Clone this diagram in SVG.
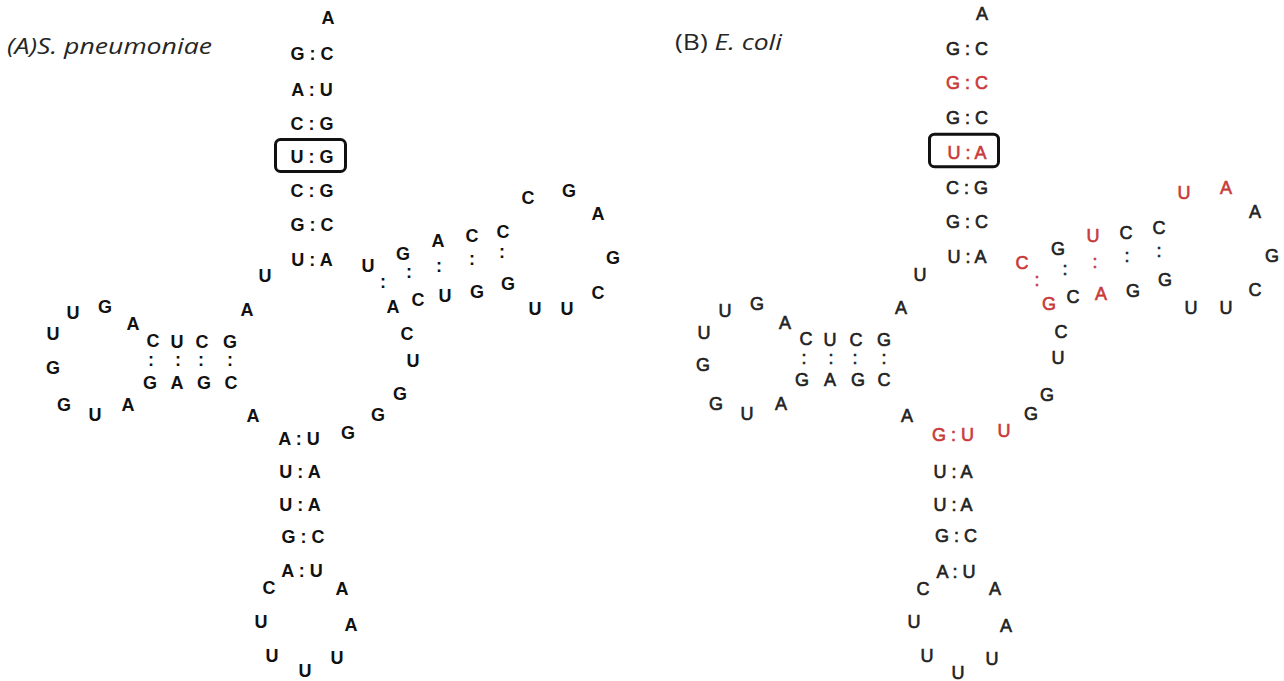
<svg xmlns="http://www.w3.org/2000/svg" width="1284" height="681" viewBox="0 0 1284 681">
<style>
  .b { font-family: "Liberation Sans", Arial, sans-serif; font-size: 18px; font-weight: bold; fill: #111; text-anchor: middle; }
  .r { font-family: "Liberation Sans", Arial, sans-serif; font-size: 18px; fill: #222; stroke: #222; stroke-width: 0.6; text-anchor: middle; }
  .r.red { fill: #c83a3a; stroke: #c83a3a; }
  .title { font-family: "Open Sans", "Liberation Sans", sans-serif; font-size: 22px; fill: #262626; }
  .hl { fill: none; stroke: #111; stroke-width: 3; }
</style>
<rect width="1284" height="681" fill="#fff"/>

<!-- Panel A -->
<g id="panel-a">
  <g id="a-title">
    <text class="title" x="7" y="54" font-style="italic" textLength="205" lengthAdjust="spacingAndGlyphs">(A)S. pneumoniae</text>
  </g>
  <g id="a-acceptor-stem">
    <text class="b" x="328" y="23.5">A</text>
    <text class="b" x="312" y="59.5">G : C</text>
    <text class="b" x="312" y="95.5">A : U</text>
    <text class="b" x="312" y="129.5">C : G</text>
    <text class="b" x="312" y="162.5">U : G</text>
    <text class="b" x="312" y="196.5">C : G</text>
    <text class="b" x="312" y="230.5">G : C</text>
    <text class="b" x="312" y="265.5">U : A</text>
    <rect class="hl" x="275.5" y="139.5" width="70" height="32" rx="5"/>
  </g>
  <g id="a-d-arm">
    <text class="b" x="265" y="281.5">U</text>
    <text class="b" x="247" y="315.5">A</text>
    <text class="b" x="153" y="346.5">C</text>
    <text class="b" x="177" y="347.5">U</text>
    <text class="b" x="202" y="347.5">C</text>
    <text class="b" x="230" y="347.5">G</text>
    <text class="b" x="151" y="366.2">:</text>
    <text class="b" x="178" y="366.2">:</text>
    <text class="b" x="201" y="366.2">:</text>
    <text class="b" x="230" y="366.2">:</text>
    <text class="b" x="150" y="388.5">G</text>
    <text class="b" x="177" y="388.5">A</text>
    <text class="b" x="204" y="388.5">G</text>
    <text class="b" x="231" y="388.5">C</text>
    <text class="b" x="133" y="329.5">A</text>
    <text class="b" x="105" y="312.5">G</text>
    <text class="b" x="73" y="318.5">U</text>
    <text class="b" x="53" y="339.5">U</text>
    <text class="b" x="53" y="373.5">G</text>
    <text class="b" x="64" y="410.5">G</text>
    <text class="b" x="95" y="420.5">U</text>
    <text class="b" x="128" y="410.5">A</text>
    <text class="b" x="253" y="421.5">A</text>
  </g>
  <g id="a-anticodon-arm">
    <text class="b" x="299" y="444.5">A : U</text>
    <text class="b" x="300" y="477.5">U : A</text>
    <text class="b" x="300" y="510.5">U : A</text>
    <text class="b" x="303" y="542.5">G : C</text>
    <text class="b" x="302" y="576.5">A : U</text>
    <text class="b" x="269" y="593.5">C</text>
    <text class="b" x="342" y="594.5">A</text>
    <text class="b" x="261" y="627.5">U</text>
    <text class="b" x="351" y="630.5">A</text>
    <text class="b" x="272" y="661.5">U</text>
    <text class="b" x="305" y="676.5">U</text>
    <text class="b" x="337" y="663.5">U</text>
  </g>
  <g id="a-t-arm">
    <text class="b" x="348" y="438.5">G</text>
    <text class="b" x="378" y="420.5">G</text>
    <text class="b" x="400" y="399.5">G</text>
    <text class="b" x="413" y="366.5">U</text>
    <text class="b" x="407" y="339.5">C</text>
    <text class="b" x="393" y="312.5">A</text>
    <text class="b" x="418" y="305.5">C</text>
    <text class="b" x="445" y="301.5">U</text>
    <text class="b" x="477" y="297.5">G</text>
    <text class="b" x="508" y="289.5">G</text>
    <text class="b" x="535" y="314.5">U</text>
    <text class="b" x="567" y="314.5">U</text>
    <text class="b" x="598" y="298.5">C</text>
    <text class="b" x="613" y="263.5">G</text>
    <text class="b" x="598" y="219.5">A</text>
    <text class="b" x="569" y="196.5">G</text>
    <text class="b" x="528" y="203.5">C</text>
    <text class="b" x="503" y="237.5">C</text>
    <text class="b" x="472" y="241.5">C</text>
    <text class="b" x="438" y="246.5">A</text>
    <text class="b" x="403" y="259.5">G</text>
    <text class="b" x="368" y="271.5">U</text>
    <text class="b" x="383" y="287.7">:</text>
    <text class="b" x="409" y="277.7">:</text>
    <text class="b" x="439" y="271.7">:</text>
    <text class="b" x="472" y="264.7">:</text>
    <text class="b" x="502" y="257.7">:</text>
  </g>
</g>

<!-- Panel B -->
<g id="panel-b">
  <g id="b-title">
    <text class="title" x="675" y="50" textLength="107" lengthAdjust="spacingAndGlyphs">(B) <tspan font-style="italic">E. coli</tspan></text>
  </g>
  <g id="b-acceptor-stem">
    <text class="r" x="982" y="19.5">A</text>
    <text class="r" x="967" y="54.5">G : C</text>
    <text class="r red" x="967" y="88.5">G : C</text>
    <text class="r" x="967" y="123.5">G : C</text>
    <text class="r red" x="967" y="158.5">U : A</text>
    <text class="r" x="967" y="193.5">C : G</text>
    <text class="r" x="967" y="227.5">G : C</text>
    <text class="r" x="967" y="262.5">U : A</text>
    <rect class="hl" x="929.5" y="134.2" width="69" height="32.5" rx="5"/>
  </g>
  <g id="b-d-arm">
    <text class="r" x="920" y="280.5">U</text>
    <text class="r" x="901" y="313.5">A</text>
    <text class="r" x="806" y="344.5">C</text>
    <text class="r" x="830" y="346">U</text>
    <text class="r" x="856" y="346">C</text>
    <text class="r" x="884" y="346">G</text>
    <text class="r" x="804" y="363.5">:</text>
    <text class="r" x="831" y="363.5">:</text>
    <text class="r" x="855" y="363.5">:</text>
    <text class="r" x="884" y="363.5">:</text>
    <text class="r" x="802" y="385.5">G</text>
    <text class="r" x="830" y="385.5">A</text>
    <text class="r" x="858" y="385.5">G</text>
    <text class="r" x="884" y="385.5">C</text>
    <text class="r" x="785" y="328.5">A</text>
    <text class="r" x="757" y="309.5">G</text>
    <text class="r" x="725" y="316.5">U</text>
    <text class="r" x="704" y="338.5">U</text>
    <text class="r" x="703" y="370.5">G</text>
    <text class="r" x="716" y="409.5">G</text>
    <text class="r" x="747" y="419.5">U</text>
    <text class="r" x="781" y="409.5">A</text>
    <text class="r" x="907" y="421.5">A</text>
  </g>
  <g id="b-anticodon-arm">
    <text class="r red" x="953" y="440.5">G : U</text>
    <text class="r" x="953" y="477.5">U : A</text>
    <text class="r" x="953" y="510.5">U : A</text>
    <text class="r" x="956" y="541.5">G : C</text>
    <text class="r" x="956" y="577.5">A : U</text>
    <text class="r" x="923" y="594.5">C</text>
    <text class="r" x="995" y="594.5">A</text>
    <text class="r" x="914" y="627.5">U</text>
    <text class="r" x="1006" y="631.5">A</text>
    <text class="r" x="927" y="661.5">U</text>
    <text class="r" x="958" y="678.5">U</text>
    <text class="r" x="992" y="664.5">U</text>
  </g>
  <g id="b-t-arm">
    <text class="r red" x="1004" y="436.5">U</text>
    <text class="r" x="1031" y="419.5">G</text>
    <text class="r" x="1047" y="400.5">G</text>
    <text class="r" x="1058" y="363.5">U</text>
    <text class="r" x="1061" y="337.5">C</text>
    <text class="r red" x="1049" y="309.5">G</text>
    <text class="r" x="1073" y="302.5">C</text>
    <text class="r red" x="1101" y="299.5">A</text>
    <text class="r" x="1133" y="296.5">G</text>
    <text class="r" x="1165" y="285.5">G</text>
    <text class="r" x="1191" y="313.5">U</text>
    <text class="r" x="1226" y="313.5">U</text>
    <text class="r" x="1255" y="295.5">C</text>
    <text class="r" x="1272" y="261.5">G</text>
    <text class="r" x="1255" y="217.5">A</text>
    <text class="r red" x="1226" y="193.5">A</text>
    <text class="r red" x="1184" y="198.5">U</text>
    <text class="r" x="1159" y="233.5">C</text>
    <text class="r" x="1126" y="238.5">C</text>
    <text class="r red" x="1093" y="241.5">U</text>
    <text class="r" x="1058" y="254.5">G</text>
    <text class="r red" x="1022" y="268.5">C</text>
    <text class="r red" x="1037" y="285.7">:</text>
    <text class="r" x="1065" y="274.7">:</text>
    <text class="r red" x="1095" y="267.7">:</text>
    <text class="r" x="1127" y="261.7">:</text>
    <text class="r" x="1159" y="256.7">:</text>
  </g>
</g>
</svg>
